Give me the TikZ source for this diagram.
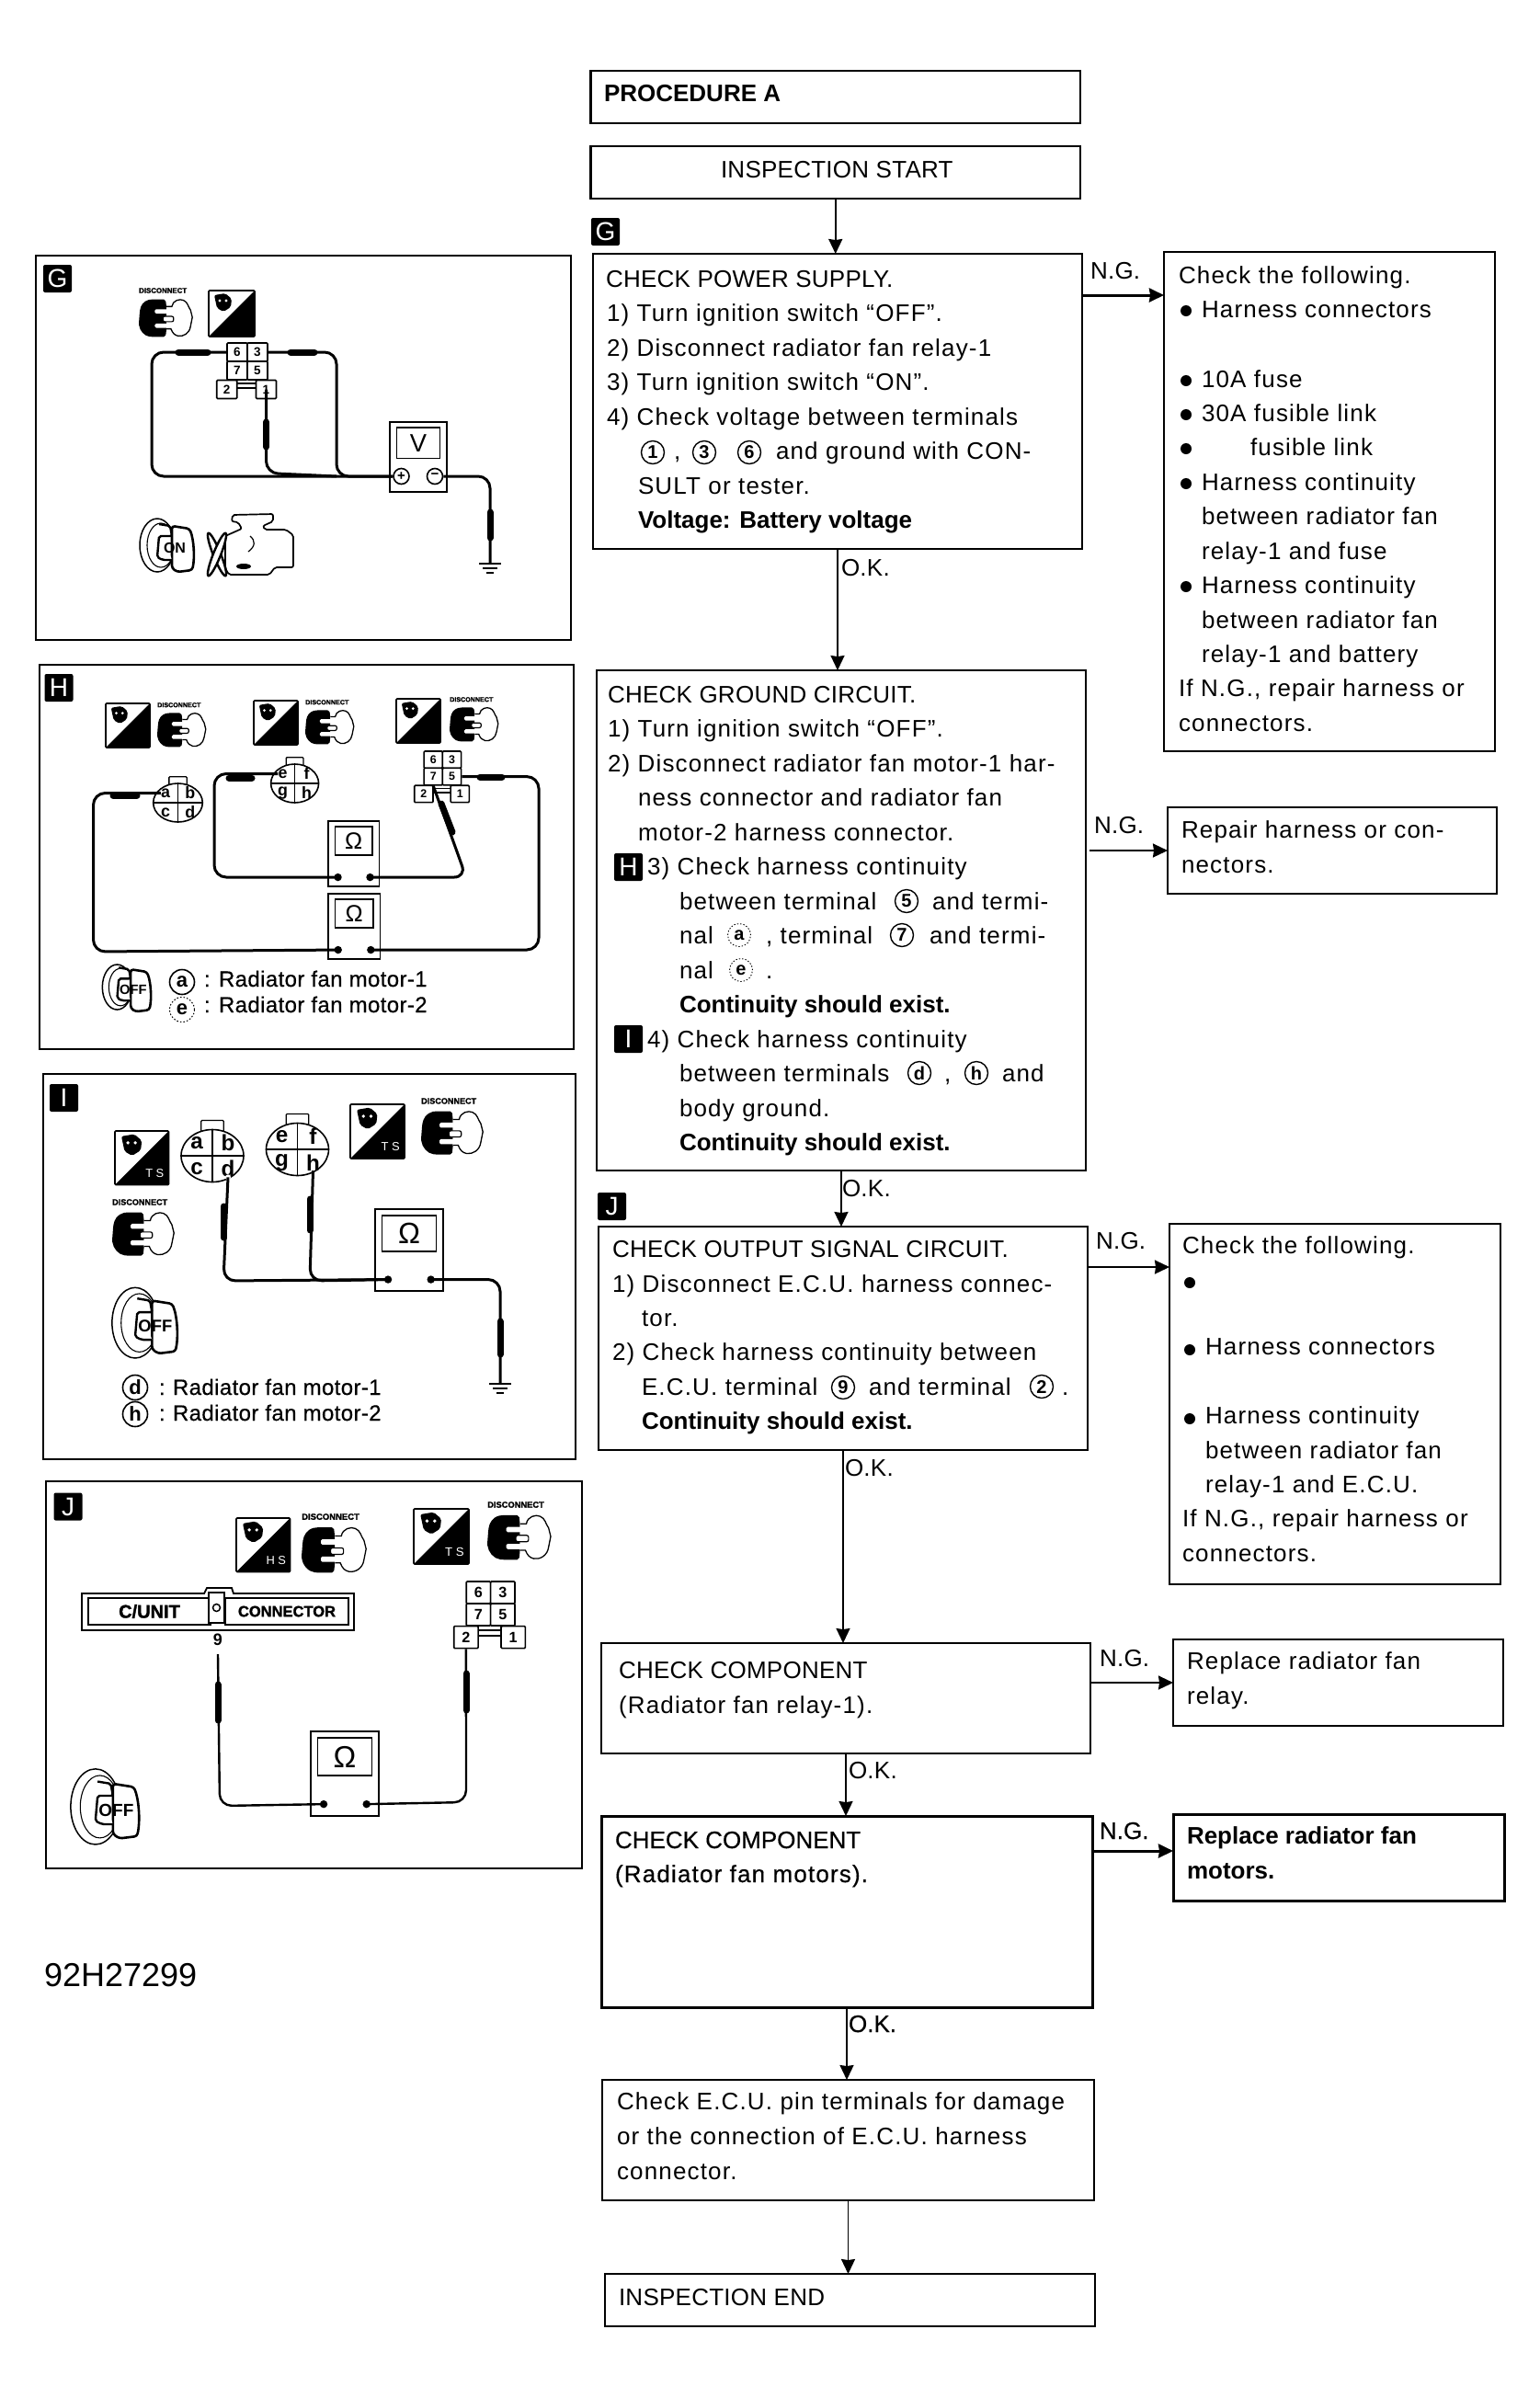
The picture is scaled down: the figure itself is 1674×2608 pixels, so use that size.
\documentclass[tikz,border=0pt]{standalone}
\usepackage{fontspec}
\setmainfont{Liberation Sans}
\newfontfamily\lsfont[LetterSpace=4.5]{Liberation Sans}
\newfontfamily\ucfont[LetterSpace=1]{Liberation Sans}
\newfontfamily\medfont[FakeBold=0.45]{Liberation Sans}
\newfontfamily\medls[FakeBold=0.45,LetterSpace=4.5]{Liberation Sans}
\newfontfamily\legfont[FakeBold=0.45,LetterSpace=1.6]{Liberation Sans}
\newfontfamily\heavyfont[FakeBold=1.6]{Liberation Sans Bold}
\usetikzlibrary{arrows.meta,calc}
\newcommand{\fsz}[1]{\fontsize{#1}{#1}\selectfont}
\tikzset{
  bx/.style={draw,line width=2.4pt,inner sep=0,outer sep=0},
  bxthick/.style={bx,line width=3pt},
  panel/.style={draw,line width=2pt,inner sep=0,outer sep=0},
  flow/.style={line width=1.9pt,-{Stealth[length=16pt,width=15pt,inset=1pt]}},
  flowthick/.style={flow,line width=3pt},
  wire/.style={line width=3pt,rounded corners=13pt},
  probe/.style={line width=7pt,line cap=round},
  txt/.style={anchor=base west,inner sep=0,outer sep=0},
  cnum/.style={circle,draw,line width=1.4pt,minimum size=25pt,inner sep=0,font=\fsz{20}\bfseries},
  cnumfaint/.style={cnum,dotted,line width=.9pt},
  cleg/.style={circle,draw,line width=1.6pt,minimum size=27pt,inner sep=0,font=\fsz{22}\bfseries},
  bulletdot/.style={circle,fill=black,minimum size=12pt,inner sep=0},
  badgebox/.style={fill=black,text=white,rounded corners=2pt,minimum width=31pt,minimum height=30pt,inner sep=0,font=\fsz{28}},
}
% text line
\newcommand{\tl}[4]{\node[txt] (#1) at (#2,#3) {\fsz{26}\lsfont #4};}
\newcommand{\tu}[4]{\node[txt] (#1) at (#2,#3) {\fsz{26}\ucfont #4};}
\newcommand{\tb}[4]{\node[txt] (#1) at (#2,#3) {\fsz{26}\bfseries #4};}
\newcommand{\tm}[4]{\node[txt] (#1) at (#2,#3) {\fsz{26}\medfont #4};}
\newcommand{\tmls}[4]{\node[txt] (#1) at (#2,#3) {\fsz{26}\medls #4};}
\newcommand{\bul}[3]{\node[bulletdot] (#1) at (#2,#3) {};}
\newcommand{\cn}[4]{\node[cnum] (#1) at (#2,#3) {#4};}
\newcommand{\boxn}[6][bx]{\node[#1,minimum width={(#5-#3)*1pt},minimum height={(#6-#4)*1pt}] (#2) at ({(#3+#5)/2},{(#4+#6)/2}) {};}
\newcommand{\badge}[4]{\node[badgebox] (#1) at (#2,#3) {#4};}
% disconnect icon
\newcommand{\discicon}[4]{%
 \begin{scope}[shift={(#2,#3)},scale=#4]
  \pgfmathsetmacro\fs{8.1*#4}
  \node[anchor=north west,inner sep=0] (#1) at (0,0) {\fsz{\fs}\heavyfont DISCONNECT};
  \fill[rounded corners=2pt] (30,13) -- (13,13) .. controls (5,15) and (2,20) .. (1,27) -- (0,40) .. controls (1,48) and (6,54) .. (14,55) -- (30,55) -- (31,46) -- (31,22) -- cycle;
  \draw[line width=1.3pt,fill=white] (31,21) -- (37,21) .. controls (38,14) and (46,12) .. (50,14) .. controls (55,16) and (55,21) .. (58,25) -- (60,33) -- (58,43) .. controls (57,51) and (50,55) .. (44,54) .. controls (40,53) and (38,51) .. (36,46) -- (31,46);
  \fill[white,rounded corners=1.5pt] (18,24) rectangle (33,29);
  \fill[white,rounded corners=1.5pt] (18,40) rectangle (33,45);
  \draw[line width=1.2pt,fill=white,rounded corners=2pt] (27,32) rectangle (39,38);
 \end{scope}}
% square icon: name x y s label
\newcommand{\sqicon}[5]{%
 \begin{scope}[shift={(#2,#3)},scale=#4]
  \pgfmathsetmacro\fs{11*#4}
  \draw[line width=1.6pt,rounded corners=1pt] (0,0) rectangle (50,50);
  \fill (50,0) -- (50,50) -- (0,50) -- cycle;
  \fill[rounded corners=2pt] (6,5) -- (18,3) -- (25,9) -- (24,18) -- (16,23) -- (9,19) -- cycle;
  \fill[white] (12,11) circle (1.6pt) (19,11) circle (1.6pt);
  \node[text=white,inner sep=0] (#1) at (37,39) {\fsz{\fs}#5};
 \end{scope}}
% key icon
\newcommand{\keyicon}[5]{%
 \begin{scope}[shift={(#2,#3)},scale=#4]
  \pgfmathsetmacro\fs{16*#4}
  \draw[line width=1.5pt] (20,31) ellipse [x radius=19*#4,y radius=29*#4];
  \draw[line width=1.1pt] (24,31) ellipse [x radius=15*#4,y radius=24*#4];
  \draw[line width=2.6pt,fill=white,rounded corners=3pt] (36,10) -- (55,13) .. controls (60,25) and (61,45) .. (58,58) -- (42,60) -- (36,56) -- cycle;
  \draw[line width=2.4pt,fill=white,rounded corners=2pt] (22,8) -- (34,10) -- (36,21) -- (22,21) -- (20,44) -- (26,47) -- (36,47);
  \node[inner sep=0] (#1) at (39,34) {\fsz{\fs}\bfseries #5};
 \end{scope}}
% relay grid
\newcommand{\relaygrid}[4]{%
 \begin{scope}[shift={(#2,#3)},scale=#4]
  \pgfmathsetmacro\fs{13.5*#4}
  \pgfmathsetmacro\cw{22*#4}
  \pgfmathsetmacro\ch{20*#4}
  \tikzset{cellc/.style={draw,line width=1.6pt,inner sep=0,rounded corners=1pt,fill=white,minimum width=\cw pt,minimum height=\ch pt,font=\fsz{\fs}\bfseries}}
  \draw[line width=1.4pt] (20,44) -- (43,44) (20,49) -- (43,49);
  \node[cellc] (#1-6) at (22,10) {6};
  \node[cellc] (#1-3) at (44,10) {3};
  \node[cellc] (#1-7) at (22,30) {7};
  \node[cellc] (#1-5) at (44,30) {5};
  \node[cellc] (#1-2) at (10.75,50.5) {2};
  \node[cellc] (#1-1) at (53.5,50.5) {1};
 \end{scope}}
% round connector
\newcommand{\roundconn}[9]{%
 \begin{scope}[shift={(#2,#3)}]
  \pgfmathsetmacro\fs{#5*0.85}
  \pgfmathsetmacro\hx{#4*.5}
  \pgfmathsetmacro\hy{#5*.5}
  \draw[line width=1.3pt,rounded corners=1pt] ({-#4*.36},{-#5*.9}) -- ({-#4*.36},{-#5*1.35}) -- ({#4*.36},{-#5*1.35}) -- ({#4*.36},{-#5*.9});
  \draw[line width=1.6pt,fill=white] (0,0) ellipse [x radius=#4,y radius=#5];
  \draw[line width=1.6pt] (-#4,0) -- (#4,0) (0,-#5) -- (0,#5);
  \node[inner sep=0,font=\fsz{\fs}\bfseries] (#1-a) at (-\hx,-\hy) {#6};
  \node[inner sep=0,font=\fsz{\fs}\bfseries] (#1-b) at (\hx,-\hy) {#7};
  \node[inner sep=0,font=\fsz{\fs}\bfseries] (#1-c) at (-\hx,\hy) {#8};
  \node[inner sep=0,font=\fsz{\fs}\bfseries] (#1-d) at (\hx,\hy) {#9};
 \end{scope}}
% meter
\newcommand{\meterbox}[6]{%
  \pgfmathsetmacro\mw{#4-#2}\pgfmathsetmacro\mh{#5-#3}
  \pgfmathsetmacro\fs{\mh*0.36}
  \node[draw,line width=1.6pt,inner sep=0,minimum width=\mw pt,minimum height=\mh pt] (#1) at ({(#2+#4)/2},{(#3+#5)/2}) {};
  \node[draw,line width=1.8pt,inner sep=0,minimum width={(\mw-15)*1pt},minimum height={\mh*.44*1pt},font=\fsz{\fs}] (#1-disp) at ({(#2+#4)/2},{#3+.3*\mh}) {#6};
  \coordinate (#1-l) at ({#2+.19*\mw},{#5-.14*\mh});
  \coordinate (#1-r) at ({#2+.82*\mw},{#5-.14*\mh});}
\newcommand{\meterdots}[1]{\fill (#1-l) circle (4.2pt) (#1-r) circle (4.2pt);}
\newcommand{\groundsym}[1]{%
  \draw[line width=2pt] ($(#1)+(-12,0)$) -- ($(#1)+(12,0)$) ($(#1)+(-8,5)$) -- ($(#1)+(8,5)$) ($(#1)+(-4,10)$) -- ($(#1)+(4,10)$);}
\begin{document}
\begin{tikzpicture}[x=1pt,y=-1pt]
\fill[white] (0,0) rectangle (1674,2608);
\useasboundingbox (0,0) rectangle (1674,2608);

% ---------- flow boxes ----------
\boxn{proc}{642.5}{77}{1175}{134}
\boxn{start}{642.5}{159}{1175}{216}
\boxn{power}{645}{276}{1177}{597}
\boxn{chk1}{1266}{274}{1626}{817}
\boxn{ground}{649}{729}{1181}{1273}
\boxn{rep}{1270}{878}{1628}{972}
\boxn{output}{651}{1334}{1183}{1577}
\boxn{chk2}{1272}{1331}{1632}{1723}
\boxn{comp1}{654}{1787}{1186}{1907}
\boxn{rep2}{1276}{1783}{1635}{1877}
\boxn[bxthick]{comp2}{654}{1975}{1188}{2183}
\boxn[bxthick]{rep3}{1276}{1973}{1636}{2067}
\boxn{ecu}{655}{2262}{1190}{2393}
\boxn{endb}{658}{2473}{1191}{2530}

% ---------- flow arrows ----------
\draw[flow] (start.south) -- (start.south |- power.north);
\draw[flow] (power.south) -- (power.south |- ground.north);
\draw[flow] (ground.south) -- (ground.south |- output.north);
\draw[flow] (output.south) -- (output.south |- comp1.north);
\draw[flow] (comp1.south) -- (comp1.south |- comp2.north);
\draw[flow] (comp2.south) -- (comp2.south |- ecu.north);
\draw[flow] (ecu.south) -- (ecu.south |- endb.north);
\coordinate (ng1) at (1177,321);
\draw[flowthick] (ng1) -- (ng1 -| chk1.west);
\coordinate (ng2) at (1185,925);
\draw[flow] (ng2) -- (ng2 -| rep.west);
\coordinate (ng3) at (1183,1378);
\draw[flow] (ng3) -- (ng3 -| chk2.west);
\coordinate (ng4) at (1186,1830);
\draw[flow] (ng4) -- (ng4 -| rep2.west);
\coordinate (ng5) at (1188,2013);
\draw[flowthick] (ng5) -- (ng5 -| rep3.west);

% ---------- flow text ----------
\node[txt] (tproc) at (657,110) {\fsz{26}\bfseries PROCEDURE A};
\tu{tstart}{784}{193}{INSPECTION START}
\badge{bG}{658.5}{252}{G}
\tu{p0}{659}{312}{CHECK POWER SUPPLY.}
\tl{p1}{660}{349.5}{1) Turn ignition switch “OFF”.}
\tl{p2}{660}{387}{2) Disconnect radiator fan relay-1}
\tl{p3}{660}{424.5}{3) Turn ignition switch “ON”.}
\tl{p4}{660}{462}{4) Check voltage between terminals}
\cn{c1}{710}{492}{1}
\tl{p5a}{733}{499.5}{,}
\cn{c3}{766}{492}{3}
\cn{c6}{815}{492}{6}
\tl{p5}{844}{499.5}{and ground with CON-}
\tl{p6}{694}{537}{SULT or tester.}
\tb{p7}{694}{574.5}{Voltage: Battery voltage}
\tu{ng1t}{1186}{303}{N.G.}
\tu{ok1t}{915}{626}{O.K.}

\tl{k0}{1282}{308}{Check the following.}
\bul{kb1}{1290}{338}\tl{k1}{1307}{345}{Harness connectors}
\bul{kb2}{1290}{414}\tl{k2}{1307}{421}{10A fuse}
\bul{kb3}{1290}{451}\tl{k3}{1307}{458}{30A fusible link}
\bul{kb4}{1290}{488}\tl{k4}{1360}{495}{fusible link}
\bul{kb5}{1290}{526}\tl{k5}{1307}{533}{Harness continuity}
\tl{k6}{1307}{570}{between radiator fan}
\tl{k7}{1307}{608}{relay-1 and fuse}
\bul{kb6}{1290}{638}\tl{k8}{1307}{645}{Harness continuity}
\tl{k9}{1307}{683}{between radiator fan}
\tl{k10}{1307}{720}{relay-1 and battery}
\tl{k11}{1282}{757}{If N.G., repair harness or}
\tl{k12}{1282}{795}{connectors.}

\tu{g0}{661}{764}{CHECK GROUND CIRCUIT.}
\tl{g1}{661}{801.5}{1) Turn ignition switch “OFF”.}
\tl{g2}{661}{839}{2) Disconnect radiator fan motor-1 har-}
\tl{g3}{694}{876.5}{ness connector and radiator fan}
\tl{g4}{694}{914}{motor-2 harness connector.}
\badge{bH2}{683.5}{943}{H}
\tl{g5}{704}{951.5}{3) Check harness continuity}
\tl{g6}{739}{989}{between terminal}
\cn{c5}{986}{980}{5}
\tl{g6b}{1014}{989}{and termi-}
\tl{g7}{739}{1026.5}{nal}
\node[cnumfaint] (ca) at (804,1017) {a};
\tl{g7b}{833}{1026.5}{, terminal}
\cn{c7}{981}{1017}{7}
\tl{g7c}{1011}{1026.5}{and termi-}
\tl{g8}{739}{1064}{nal}
\node[cnumfaint] (ce) at (806,1055) {e};
\tl{g8b}{833}{1064}{.}
\tb{g9}{739}{1101.5}{Continuity should exist.}
\badge{bI2}{683.5}{1130}{I}
\tl{g10}{704}{1139}{4) Check harness continuity}
\tl{g11}{739}{1176.5}{between terminals}
\cn{cd}{1000}{1167}{d}
\tl{g11b}{1027}{1176.5}{,}
\cn{ch}{1062}{1167}{h}
\tl{g11c}{1090}{1176.5}{and}
\tl{g12}{739}{1214}{body ground.}
\tb{g13}{739}{1251.5}{Continuity should exist.}
\tu{ng2t}{1190}{906}{N.G.}
\tl{r0}{1285}{911}{Repair harness or con-}
\tl{r1}{1285}{949}{nectors.}
\tu{ok2t}{916}{1301}{O.K.}

\badge{bJ2}{665.5}{1312}{J}
\tu{o0}{666}{1367}{CHECK OUTPUT SIGNAL CIRCUIT.}
\tl{o1}{666}{1405}{1) Disconnect E.C.U. harness connec-}
\tl{o2}{698}{1442}{tor.}
\tl{o3}{666}{1479}{2) Check harness continuity between}
\tl{o4}{698}{1517}{E.C.U. terminal}
\cn{c9}{917}{1509}{9}
\tl{o4b}{945}{1517}{and terminal}
\cn{c2}{1133}{1508}{2}
\tl{o4c}{1155}{1517}{.}
\tb{o5}{698}{1554}{Continuity should exist.}
\tu{ng3t}{1192}{1358}{N.G.}
\tu{ok3t}{919}{1605}{O.K.}
\tl{h0}{1286}{1363}{Check the following.}
\bul{hb1}{1294}{1395}
\bul{hb2}{1294}{1468}\tl{h1}{1311}{1473}{Harness connectors}
\bul{hb3}{1294}{1543}\tl{h2}{1311}{1548}{Harness continuity}
\tl{h3}{1311}{1586}{between radiator fan}
\tl{h4}{1311}{1623}{relay-1 and E.C.U.}
\tl{h5}{1286}{1660}{If N.G., repair harness or}
\tl{h6}{1286}{1698}{connectors.}

\tu{m0}{673}{1825}{CHECK COMPONENT}
\tl{m1}{673}{1863}{(Radiator fan relay-1).}
\tu{ng4t}{1196}{1812}{N.G.}
\tl{r2}{1291}{1815}{Replace radiator fan}
\tl{r3}{1291}{1853}{relay.}
\tu{ok4t}{923}{1934}{O.K.}
\tm{n0}{669}{2010}{CHECK COMPONENT}
\tmls{n1}{669}{2047}{(Radiator fan motors).}
\tm{ng5t}{1196}{2000}{N.G.}
\tb{r4}{1291}{2005}{Replace radiator fan}
\tb{r5}{1291}{2043}{motors.}
\tm{ok5t}{923}{2210}{O.K.}
\tl{e0}{671}{2294}{Check E.C.U. pin terminals for damage}
\tl{e1}{671}{2332}{or the connection of E.C.U. harness}
\tl{e2}{671}{2370}{connector.}
\tu{e3}{673}{2507}{INSPECTION END}
\node[txt] (code) at (48,2160) {\fsz{36}92H27299};

% ---------- panel G ----------
\boxn[panel]{pG}{38.5}{278}{621}{696}
\badge{bG1}{62.5}{303}{G}
\discicon{gd}{151}{313}{.97}
\sqicon{gs}{227}{316}{1}{}
\relaygrid{gr}{236}{373}{1}
\meterbox{gm}{424}{459}{486}{535}{V}
\coordinate (gwl) at (165,518);
\coordinate (gwr) at (366,518);
\node[circle,draw,line width=1.6pt,fill=white,minimum size=17pt,inner sep=0,font=\fsz{15}\bfseries] (gplus) at (436.5,518) {+};
\node[circle,draw,line width=1.6pt,fill=white,minimum size=17pt,inner sep=0,font=\fsz{15}\bfseries] (gminus) at (473,518) {−};
\draw[wire] (gr-6.west) -- (gwl |- gr-6.west) -- (gwl) -- (gplus.west);
\draw[wire] (gr-3.east) -- (gwr |- gr-3.east) -- (gwr) -- (gplus.west);
\draw[wire] (gr-1.center) -- ($(gr-1.center)+(0,91)$) -- (gwr);
\coordinate (gg) at (533,613);
\draw[wire] (gminus.east) -- (gg |- gminus.east) -- (gg);
\draw[probe] (194,383) -- (226,383);
\draw[probe] (316,383) -- (342,383);
\draw[probe] (289.5,459) -- (289.5,486);
\draw[probe] (533,557) -- (533,585);
\groundsym{gg}
\keyicon{gk}{151}{562}{1}{ON}
\draw[line width=1.7pt,rounded corners=2pt,fill=white] (253,560) -- (297,559) -- (297,567) -- (286,572) -- (288,576) -- (311,576) -- (319,582) -- (319,617) -- (299,617) -- (293,625) -- (249,625) -- (245,618) -- (245,583) -- (263,575) -- (259,568) -- (252,567) -- cycle;
\fill (265,616) ellipse [x radius=8,y radius=3];
\draw[line width=1.2pt] (272,583) .. controls (278,588) and (278,594) .. (270,600);
\draw[line width=2.4pt,fill=white] (236,603) ellipse [x radius=4,y radius=25,rotate=22];
\draw[line width=2.4pt,fill=white] (236,603) ellipse [x radius=4,y radius=25,rotate=-22];

% ---------- panel H ----------
\boxn[panel]{pH}{43}{723}{624}{1141}
\badge{bH1}{64}{748}{H}
\sqicon{hs1}{115}{765}{.96}{}
\discicon{hd1}{171}{764}{.88}
\sqicon{hs2}{276}{762}{.96}{}
\discicon{hd2}{332}{761}{.88}
\sqicon{hs3}{431}{760}{.96}{}
\discicon{hd3}{489}{758}{.88}
\roundconn{ra}{193.5}{873}{26.8}{21}{a}{b}{c}{d}
\roundconn{re}{320.6}{852}{26}{21}{e}{f}{g}{h}
\relaygrid{hr}{451}{817}{.92}
\meterbox{hm1}{357}{893}{412.5}{964}{Ω}
\meterbox{hm2}{357}{972}{413.5}{1043}{Ω}
\meterdots{hm1}\meterdots{hm2}
\coordinate (hwa) at (101.5,1035);
\draw[wire] (ra-a.west) -- (hwa |- ra-a.west) -- (hwa) -- (hm2-l);
\draw[probe] (123,865) -- (149,865);
\coordinate (hwr) at (586,1033);
\draw[wire] (hm2-r) -- (hwr) -- (hwr |- hr-5.east) -- (hr-5.east);
\draw[probe] (522,845) -- (546,845);
\coordinate (hwb) at (233,954);
\draw[wire] (re-a.west) -- (hwb |- re-a.west) -- (hwb) -- (hm1-l);
\draw[probe] (249,846) -- (274,846);
\coordinate (hwc) at (507,954);
\draw[wire] (hm1-r) -- (hwc) -- (hr-7.south);
\draw[probe] (480,874) -- (492,905);
\keyicon{hk}{109}{1045}{.92}{OFF}
\node[cleg] (hla) at (198,1068) {a};
\node[cleg,dotted,line width=1pt] (hle) at (198,1098) {e};
\node[txt] (hc1) at (222,1073) {\fsz{24}\legfont :};
\node[txt] (hc2) at (222,1101) {\fsz{24}\legfont :};
\node[txt] (ht1) at (238,1073) {\fsz{24}\legfont Radiator fan motor-1};
\node[txt] (ht2) at (238,1101) {\fsz{24}\legfont Radiator fan motor-2};

% ---------- panel I ----------
\boxn[panel]{pI}{47}{1168}{626}{1587}
\badge{bI1}{69.5}{1194}{I}
\sqicon{is1}{125}{1230}{1.17}{T S}
\discicon{id1}{122}{1304}{1.12}
\roundconn{ia}{231}{1257}{34}{28.5}{a}{b}{c}{d}
\roundconn{ie}{323.5}{1250}{34}{28.5}{e}{f}{g}{h}
\sqicon{is2}{381}{1201}{1.18}{T S}
\discicon{id2}{458}{1194}{1.12}
\meterbox{im}{408}{1315}{482}{1404}{Ω}
\meterdots{im}
\coordinate (iwa) at (243,1393);
\fill[white] (ia-d.south) circle (3pt);
\draw[wire] (ia-d.south) -- (iwa) -- (im-l);
\draw[wire] (ie-d.south) -- (337,1393) -- (im-l);
\draw[probe] (243,1312) -- (243,1346);
\draw[probe] (337,1304) -- (337,1338);
\coordinate (igw) at (544,1505);
\draw[wire] (im-r) -- (igw |- im-r) -- (igw);
\draw[probe] (544,1437) -- (544,1473);
\groundsym{igw}
\keyicon{ik}{124}{1403}{1.15}{OFF}
\node[cleg] (ild) at (147,1509) {d};
\node[cleg] (ilh) at (147,1538) {h};
\node[txt] (ic1) at (173,1517) {\fsz{24}\legfont :};
\node[txt] (ic2) at (173,1545) {\fsz{24}\legfont :};
\node[txt] (it1) at (188,1517) {\fsz{24}\legfont Radiator fan motor-1};
\node[txt] (it2) at (188,1545) {\fsz{24}\legfont Radiator fan motor-2};

% ---------- panel J ----------
\boxn[panel]{pJ}{50}{1611}{633}{2032}
\badge{bJ1}{74}{1638.5}{J}
\sqicon{js1}{257}{1651}{1.17}{H S}
\discicon{jd1}{328}{1646}{1.17}
\sqicon{js2}{450}{1641}{1.2}{T S}
\discicon{jd2}{530}{1633}{1.15}
\draw[line width=1.8pt,fill=white] (89,1733) -- (222,1733) -- (225,1727) -- (252,1727) -- (254,1733) -- (385,1733) -- (385,1773) -- (89,1773) -- cycle;
\node[draw,line width=1.5pt,inner sep=0,minimum width=133pt,minimum height=29pt,font=\fsz{20}\heavyfont] (jc1) at (162.5,1752.5) {C/UNIT};
\node[draw,line width=1.5pt,inner sep=0,minimum width=134pt,minimum height=29pt,font=\fsz{16.5}\heavyfont] (jc2) at (312,1752.5) {CONNECTOR};
\node[draw,line width=1.5pt,fill=white,inner sep=0,minimum width=17pt,minimum height=33pt] (jpin) at (235.5,1748.5) {};
\draw[line width=1.5pt] (jpin.center) circle (4pt);
\node[inner sep=0,font=\fsz{18}\bfseries] (j9) at (237,1783) {9};
\relaygrid{jr}{494}{1720}{1.2}
\meterbox{jm}{338}{1883}{412}{1975}{Ω}
\meterdots{jm}
\coordinate (jw9) at (237,1799);
\coordinate (jwc) at (239,1964);
\draw[wire,line width=2.4pt] (jw9) -- (jwc) -- (jm-l);
\draw[probe] (237,1832) -- (237,1871);
\coordinate (jwd) at (507,1960);
\draw[wire,line width=2.4pt] (jr-2.south) -- (jwd) -- (jm-r);
\draw[probe] (507,1820) -- (507,1860);
\keyicon{jk}{80}{1928}{1.19}{OFF}
\end{tikzpicture}
\end{document}
